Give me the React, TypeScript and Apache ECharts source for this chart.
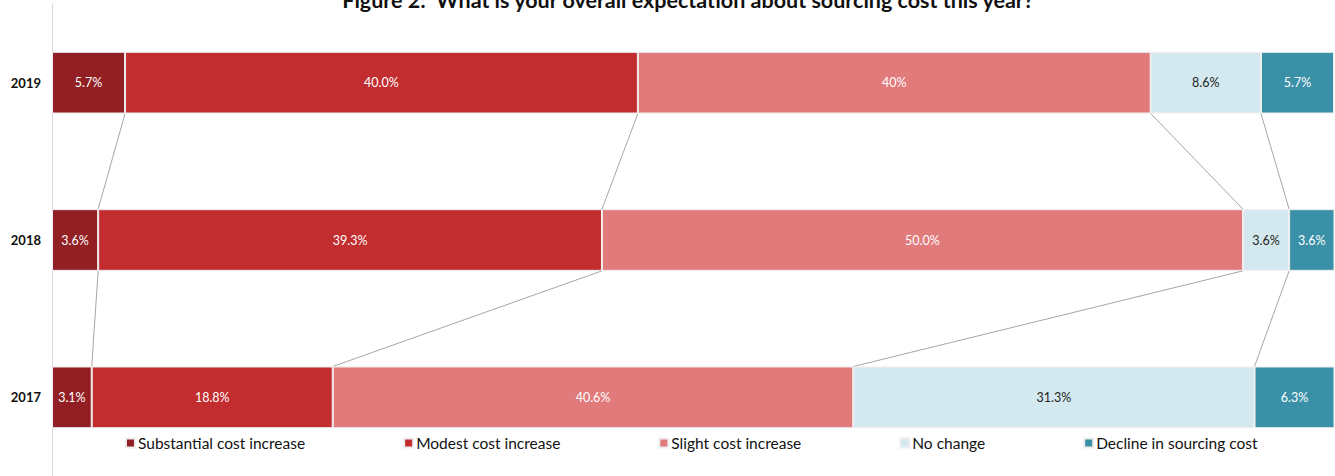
import React, { useEffect, useRef } from "react";
import * as echarts from "echarts";

const years = ["2019", "2018", "2017"];
const seriesNames = [
  "Substantial cost increase",
  "Modest cost increase",
  "Slight cost increase",
  "No change",
  "Decline in sourcing cost",
];
const substantial = [5.7, 3.6, 3.1];
const modest = [40.0, 39.3, 18.8];
const slight = [40.0, 50.0, 40.6];
const noChange = [8.6, 3.6, 31.3];
const decline = [5.7, 3.6, 6.3];
const labelTexts = [
  ["5.7%", "3.6%", "3.1%"],
  ["40.0%", "39.3%", "18.8%"],
  ["40%", "50.0%", "40.6%"],
  ["8.6%", "3.6%", "31.3%"],
  ["5.7%", "3.6%", "6.3%"],
];
const colors = ["#921f23", "#c22d30", "#e17a7b", "#d3e9ef", "#3a90a7"];
const labelColors = ["#fff", "#fff", "#fff", "#222", "#fff"];

const FONT = "Lato, 'Open Sans', sans-serif";
const BAR_RATIO = 0.392;

export default function App() {
  const ref = useRef<HTMLDivElement>(null);
  useEffect(() => {
    if (!ref.current) return;
    const chart = echarts.init(ref.current, undefined, { renderer: "svg" });
    const all = [substantial, modest, slight, noChange, decline];
    const cum = years.map((_, yi) => {
      const out: number[] = [];
      let s = 0;
      for (let k = 0; k < all.length - 1; k++) {
        s += all[k][yi];
        out.push(s);
      }
      return out;
    });
    const connectors: number[][] = [];
    for (let yi = 0; yi < years.length - 1; yi++) {
      for (let k = 0; k < cum[yi].length; k++) {
        connectors.push([cum[yi][k], cum[yi + 1][k], yi, yi + 1]);
      }
    }
    const barSeries = all.map((arr, i) => ({
      name: seriesNames[i],
      type: "bar",
      stack: "total",
      barWidth: BAR_RATIO * 100 + "%",
      data: arr,
      itemStyle: { color: colors[i], borderColor: "#eeeeee", borderWidth: 1 },
      label: {
        show: true,
        position: "inside",
        color: labelColors[i],
        fontFamily: FONT,
        fontSize: 12.5,
        formatter: (p: any) => labelTexts[i][p.dataIndex],
      },
    }));
    const option: any = {
      animation: false,
      grid: { left: 52, right: 1, top: 4, bottom: -2, containLabel: false },
      graphic: [
        {
          type: "text",
          x: 688,
          y: -11,
          style: {
            text: "Figure 2:  What is your overall expectation about sourcing cost this year?",
            font: `bold 21.5px ${FONT}`,
            fill: "#111",
            align: "center",
            verticalAlign: "top",
          },
        },
      ],
      legend: {
        bottom: 20,
        left: 120,
        itemWidth: 9,
        itemHeight: 9,
        itemGap: 98,
        icon: "rect",
        textStyle: { fontFamily: FONT, fontSize: 15.5, color: "#111", padding: [0, 0, 0, -2] },
        data: seriesNames,
      },
      xAxis: {
        type: "value",
        min: 0,
        max: 100,
        show: false,
      },
      yAxis: {
        type: "category",
        data: years,
        inverse: true,
        axisLine: { show: true, lineStyle: { color: "#d9d9d9" } },
        axisTick: { show: false },
        axisLabel: { fontFamily: FONT, fontWeight: "bold", fontSize: 13, color: "#111", margin: 11 },
      },
      series: [
        ...barSeries,
        {
          type: "custom",
          silent: true,
          data: connectors,
          encode: { x: 0 },
          renderItem: (params: any, api: any) => {
            const a = api.coord([api.value(0), api.value(2)]);
            const b = api.coord([api.value(1), api.value(3)]);
            const band = api.size([0, 1])[1];
            const h = (band * BAR_RATIO) / 2;
            return {
              type: "line",
              shape: { x1: a[0], y1: a[1] + h, x2: b[0], y2: b[1] - h },
              style: { stroke: "#a6a6a6", lineWidth: 1 },
            };
          },
          z: 1,
        },
      ],
    };
    chart.setOption(option);
    return () => chart.dispose();
  }, []);
  return (
    <div
      ref={ref}
      style={{ position: "fixed", left: 0, top: 0, width: 1335, height: 476, background: "#fff" }}
    />
  );
}
